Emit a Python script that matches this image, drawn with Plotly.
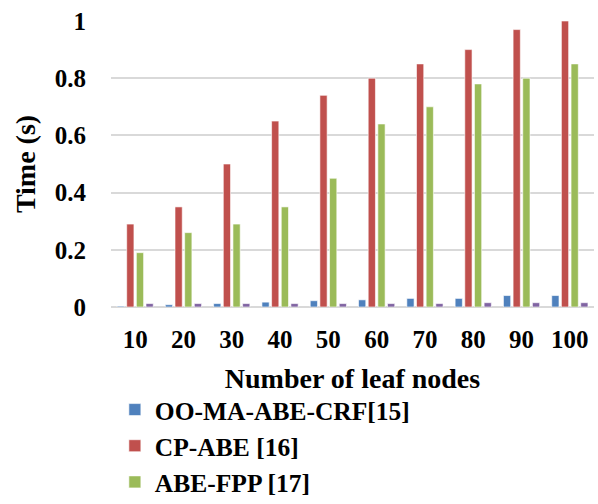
import plotly.graph_objects as go

categories = ["10", "20", "30", "40", "50", "60", "70", "80", "90", "100"]
oo_ma = [0.003, 0.008, 0.012, 0.017, 0.022, 0.025, 0.03, 0.03, 0.04, 0.04]
cp_abe = [0.29, 0.35, 0.50, 0.65, 0.74, 0.80, 0.85, 0.90, 0.97, 1.0]
abe_fpp = [0.19, 0.26, 0.29, 0.35, 0.45, 0.64, 0.70, 0.78, 0.80, 0.85]
fourth = [0.012, 0.012, 0.012, 0.012, 0.012, 0.012, 0.012, 0.015, 0.015, 0.015]

names = ["OO-MA-ABE-CRF[15]", "CP-ABE [16]", "ABE-FPP [17]", "Our scheme"]
colors = ["#4F81BD", "#C0504D", "#9BBB59", "#8064A2"]
series = [oo_ma, cp_abe, abe_fpp, fourth]

fig = go.Figure()
for i, (n, c, v) in enumerate(zip(names, colors, series)):
    fig.add_trace(go.Bar(
        x=categories, y=v, name=n, marker_color=c,
        marker_line=dict(color="white", width=0.6),
        showlegend=(i < 3),
    ))

font_family = "Liberation Serif"
fig.update_layout(
    width=598, height=504,
    margin=dict(l=111, r=4, t=21, b=197, autoexpand=False),
    paper_bgcolor="white", plot_bgcolor="white",
    barmode="group", bargap=0.2, bargroupgap=0.25,
    font=dict(family=font_family, color="black"),
    showlegend=True,
    legend=dict(
        x=0.008, y=-0.278, xanchor="left", yanchor="top",
        font=dict(family=font_family, size=25.5, color="black", weight="bold"),
        itemwidth=30, tracegroupgap=0, borderwidth=0,
    ),
)
fig.update_xaxes(
    type="category",
    tickfont=dict(family=font_family, size=25, weight="bold"),
    ticklabelstandoff=15,
    title=dict(text="<b>Number of leaf nodes</b>", font=dict(family=font_family, size=28), standoff=16),
    showline=False, ticks="", showgrid=False, automargin=False,
)
fig.update_yaxes(
    range=[0, 1.0],
    tickvals=[0, 0.2, 0.4, 0.6, 0.8, 1.0],
    ticktext=["0", "0.2", "0.4", "0.6", "0.8", "1"],
    tickfont=dict(family=font_family, size=25, weight="bold"),
    ticklabelstandoff=24,
    title=dict(text="<b>Time (s)</b>", font=dict(family=font_family, size=28), standoff=10),
    showgrid=True, gridcolor="#D9D9D9", gridwidth=1.5,
    zeroline=True, zerolinecolor="#D9D9D9", zerolinewidth=1.5,
    showline=False, ticks="", automargin=False,
)
fig.write_html("out.html")
